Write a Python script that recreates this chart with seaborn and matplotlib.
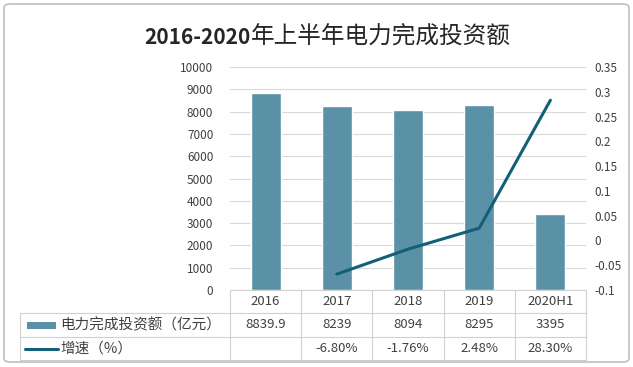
import numpy as np
import pandas as pd
import seaborn as sns
import matplotlib.pyplot as plt
from matplotlib.patches import FancyBboxPatch, Rectangle
from matplotlib.lines import Line2D

categories = ['2016', '2017', '2018', '2019', '2020H1']
investment = [8839.9, 8239, 8094, 8295, 3395]
growth = [np.nan, -0.068, -0.0176, 0.0248, 0.283]
investment_labels = ['8839.9', '8239', '8094', '8295', '3395']
growth_labels = ['', '-6.80%', '-1.76%', '2.48%', '28.30%']

BAR_COLOR = '#5a91a6'
LINE_COLOR = '#135f78'
TEXT_COLOR = '#404040'
GRID_COLOR = '#d9d9d9'

sns.set_style('white')
plt.rcParams['font.family'] = ['Noto Sans CJK SC', 'DejaVu Sans']

W, H = 633, 367


def fx(px):
    return px / W


def fy(py):
    return 1 - py / H


df = pd.DataFrame({'cat': categories, 'value': investment, 'growth': growth})
df['pos'] = range(len(df))

fig = plt.figure(figsize=(6.33, 3.67), dpi=100)
# outer frame
fig.patches.append(FancyBboxPatch((fx(4), fy(362)), fx(625), 358 / H,
                                  boxstyle='round,pad=0,rounding_size=0.01', transform=fig.transFigure,
                                  facecolor='white', edgecolor='#bfbfbf', linewidth=1.2, zorder=-5))

left, right, top, bottom = 230, 586, 67, 290
ax = fig.add_axes([fx(left), fy(bottom), fx(right - left), fy(top) - fy(bottom)])
ax.patch.set_alpha(0)

sns.barplot(data=df, x='pos', y='value', color=BAR_COLOR, width=0.42, ax=ax,
            native_scale=True, saturation=1)
ax.set_xlim(-0.5, len(categories) - 0.5)
ax.set_ylim(0, 10000)
ax.set_yticks(np.arange(0, 10001, 1000))
ax.yaxis.grid(True, color=GRID_COLOR, linewidth=0.8)
ax.set_axisbelow(True)
ax.set_xticks([])
ax.set_xlabel('')
ax.set_ylabel('')
ax.tick_params(axis='y', length=0, labelsize=8.5, labelcolor=TEXT_COLOR, pad=12)
for s in ax.spines.values():
    s.set_visible(False)

ax2 = ax.twinx()
sns.lineplot(data=df, x='pos', y='growth', color=LINE_COLOR, linewidth=2.2, ax=ax2)
ax2.set_ylim(-0.1, 0.35)
yt = np.round(np.arange(-0.1, 0.351, 0.05), 2)
ax2.set_yticks(yt)
ax2.set_yticklabels(['%g' % v for v in yt])
ax2.tick_params(axis='y', length=0, labelsize=8.5, labelcolor=TEXT_COLOR, pad=6)
ax2.set_xlim(-0.5, len(categories) - 0.5)
ax2.set_xlabel('')
ax2.set_ylabel('')
for s in ax2.spines.values():
    s.set_visible(False)

# data table below the plot
line_kw = dict(color='#d0d0d0', linewidth=0.8, transform=fig.transFigure)
row_y = [290, 313, 337, 360]
fig.add_artist(Line2D([fx(left), fx(right)], [fy(290), fy(290)], **line_kw))
for y in row_y[1:]:
    fig.add_artist(Line2D([fx(20), fx(right)], [fy(y), fy(y)], **line_kw))
fig.add_artist(Line2D([fx(20), fx(20)], [fy(313), fy(360)], **line_kw))
col_w = (right - left) / len(categories)
for i in range(len(categories) + 1):
    x = left + i * col_w
    fig.add_artist(Line2D([fx(x), fx(x)], [fy(290), fy(360)], **line_kw))

for i in range(len(categories)):
    xc = fx(left + (i + 0.5) * col_w)
    fig.text(xc, fy(301.5), categories[i], ha='center', va='center', fontsize=9.5, color=TEXT_COLOR)
    fig.text(xc, fy(325), investment_labels[i], ha='center', va='center', fontsize=9.5, color=TEXT_COLOR)
    fig.text(xc, fy(348.5), growth_labels[i], ha='center', va='center', fontsize=9.5, color=TEXT_COLOR)

fig.patches.append(Rectangle((fx(27), fy(328.5)), fx(29), fy(321.5) - fy(328.5),
                             transform=fig.transFigure, facecolor=BAR_COLOR, edgecolor='none'))
fig.add_artist(Line2D([fx(25), fx(58)], [fy(348.5), fy(348.5)], color=LINE_COLOR, linewidth=2.2,
                      transform=fig.transFigure))
fig.text(fx(60), fy(325), '电力完成投资额（亿元）', ha='left', va='center', fontsize=10.5, color=TEXT_COLOR)
fig.text(fx(60), fy(348.5), '增速（%）', ha='left', va='center', fontsize=10.5, color=TEXT_COLOR)

# title: bold digits, regular CJK
fig.text(fx(251), fy(37), '2016-2020', ha='right', va='center',
         fontsize=15, fontweight='bold', color='#262626')
fig.text(fx(251), fy(37), '年上半年电力完成投资额', ha='left', va='center',
         fontsize=17, color='#262626')

fig.savefig('out.png', dpi=100)
